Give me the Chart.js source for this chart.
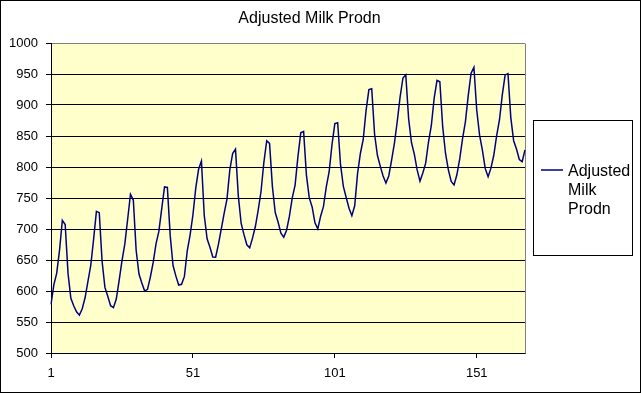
<!DOCTYPE html>
<html>
<head>
<meta charset="utf-8">
<title>Adjusted Milk Prodn</title>
<script src="https://cdn.jsdelivr.net/npm/chart.js@4.4.1/dist/chart.umd.min.js"></script>
<style>
  html, body { margin: 0; padding: 0; background: #fff; }
  canvas { display: block; }
</style>
</head>
<body>
<canvas id="milkChart" width="641" height="393"></canvas>
<script>
// Adjusted milk production, one value per month (168 months)
const seriesName = 'Adjusted Milk Prodn';
const milkProdn = [
  // year 1
  578.3, 609.8, 628.4, 665.6, 713.8, 707.2, 628.4, 588.1, 576.3, 566.5, 561.1, 571.4,
  // year 2
  589.1, 615.3, 641.1, 682.8, 728.5, 726.4, 648.0, 605.8, 591.5, 576.3, 573.2, 587.1,
  // year 3
  616.6, 648.6, 675.5, 715.3, 756.0, 746.7, 665.7, 627.4, 612.8, 599.9, 602.7, 622.5,
  // year 4
  646.1, 676.1, 696.1, 732.5, 767.8, 767.0, 689.3, 641.1, 624.0, 609.7, 610.8, 623.5,
  // year 5
  664.7, 690.3, 722.6, 766.0, 796.3, 809.6, 721.7, 684.3, 670.6, 654.9, 654.4, 675.5,
  // year 6
  700.1, 725.1, 748.2, 795.4, 821.8, 828.9, 753.1, 708.9, 690.9, 674.5, 669.6, 685.3,
  // year 7
  704.0, 730.5, 760.9, 807.6, 842.4, 838.0, 768.8, 726.6, 711.2, 693.2, 686.9, 698.1,
  // year 8
  720.7, 750.1, 770.8, 816.7, 855.2, 857.3, 786.5, 750.1, 735.6, 709.9, 700.1, 720.7,
  // year 9
  736.4, 768.5, 792.4, 836.0, 869.9, 871.5, 804.1, 768.8, 750.8, 733.4, 721.4, 737.4,
  // year 10
  789.4, 821.8, 844.4, 890.8, 924.9, 926.3, 853.2, 818.9, 801.5, 785.5, 774.1, 785.5,
  // year 11
  811.0, 838.6, 873.8, 913.1, 943.6, 948.6, 877.8, 839.5, 820.8, 795.3, 777.2, 790.4,
  // year 12
  806.1, 840.3, 867.0, 911.1, 939.6, 937.5, 865.0, 821.8, 795.4, 776.6, 771.1, 787.4,
  // year 13
  813.0, 845.7, 872.9, 915.2, 951.4, 960.8, 891.5, 851.3, 826.9, 797.3, 784.3, 798.2,
  // year 14
  818.9, 850.1, 875.8, 916.2, 948.5, 950.7, 879.7, 842.4, 828.9, 812.0, 808.6, 827.7
];
// category labels 1..168, only every 50th is shown
const monthLabels = milkProdn.map((v, i) => String(i + 1));
const yMin = 500, yMax = 1000, yStep = 50;

const FONT = '"Liberation Sans", Arial, sans-serif';

// background, plot area, title, outer frame and boxed legend like the original
const excelLook = {
  id: 'excelLook',
  beforeDraw(chart) {
    const { ctx, chartArea: a } = chart;
    ctx.save();
    ctx.fillStyle = '#fff';
    ctx.fillRect(0, 0, chart.width, chart.height);
    ctx.fillStyle = '#FFFFCC';
    ctx.fillRect(a.left, a.top, a.right - a.left, a.bottom - a.top);
    ctx.restore();
  },
  beforeDatasetsDraw(chart) {
    const { ctx, chartArea: a } = chart;
    ctx.save();
    ctx.strokeStyle = '#808080';
    ctx.lineWidth = 1;
    ctx.beginPath();
    const r = Math.round(a.right) + 0.5;
    ctx.moveTo(r, Math.round(a.top) + 0.5);
    ctx.lineTo(r, Math.round(a.bottom) + 0.5);
    ctx.stroke();
    ctx.restore();
  },
  afterDraw(chart) {
    const ctx = chart.ctx;
    ctx.save();
    ctx.strokeStyle = '#000';
    ctx.lineWidth = 1;
    ctx.strokeRect(0.5, 0.5, chart.width - 1, chart.height - 1);

    // title
    ctx.fillStyle = '#000';
    ctx.font = '16px ' + FONT;
    ctx.textAlign = 'center';
    ctx.textBaseline = 'alphabetic';
    ctx.fillText(seriesName, 309.5, 23);

    // legend
    ctx.strokeRect(533.5, 120.5, 99, 135);
    ctx.strokeStyle = '#000080';
    ctx.lineWidth = 1.5;
    ctx.beginPath();
    ctx.moveTo(541, 170);
    ctx.lineTo(563, 170);
    ctx.stroke();
    ctx.textAlign = 'left';
    ['Adjusted', 'Milk', 'Prodn'].forEach((w, i) => {
      ctx.fillText(w, 568, 176 + i * 19);
    });
    ctx.restore();
  }
};

new Chart(document.getElementById('milkChart'), {
  type: 'line',
  data: {
    labels: monthLabels,
    datasets: [{
      label: seriesName,
      data: milkProdn,
      borderColor: '#000080',
      borderWidth: 1.5,
      pointRadius: 0,
      tension: 0,
      fill: false
    }]
  },
  options: {
    responsive: false,
    animation: false,
    layout: { padding: { left: 0, right: 116, top: 43, bottom: 0 } },
    plugins: {
      legend: { display: false },
      tooltip: { enabled: false },
      title: { display: false }
    },
    scales: {
      x: {
        type: 'category',
        offset: false,
        afterFit(scale) { scale.height = 40; },
        grid: {
          drawOnChartArea: false,
          color: '#000',
          tickLength: 5
        },
        border: { display: true, color: '#000' },
        ticks: {
          autoSkip: false,
          maxRotation: 0,
          padding: 8,
          color: '#000',
          font: { family: FONT, size: 13 },
          callback(value, index) {
            return index % 50 === 0 ? monthLabels[index] : null;
          }
        }
      },
      y: {
        min: yMin,
        max: yMax,
        afterFit(scale) { scale.width = 51; },
        grid: {
          color: ctx => (ctx.tick && ctx.tick.value === yMax ? '#808080' : '#000'),
          tickColor: '#000',
          tickLength: 5
        },
        border: { display: true, color: '#000' },
        ticks: {
          stepSize: yStep,
          padding: 8,
          color: '#000',
          font: { family: FONT, size: 13 },
          callback: value => String(value)
        }
      }
    }
  },
  plugins: [excelLook]
});
</script>
</body>
</html>
